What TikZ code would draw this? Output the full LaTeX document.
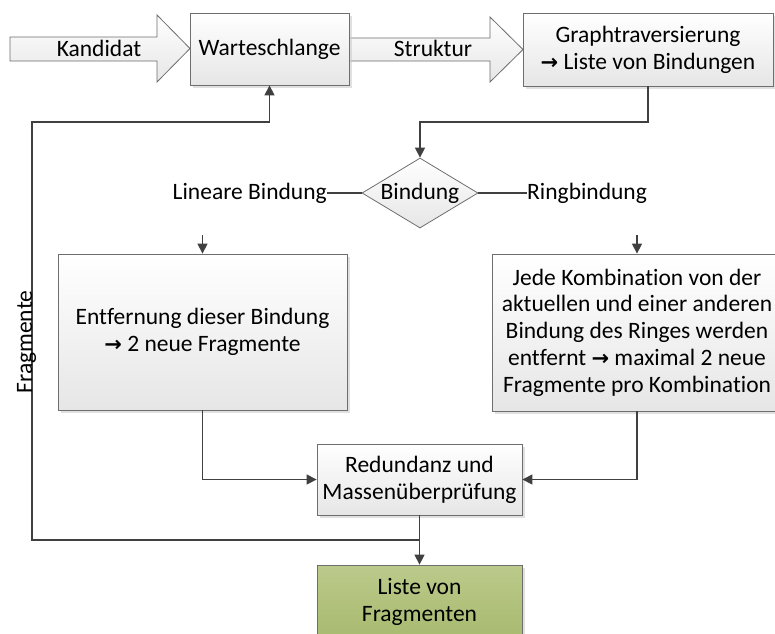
\documentclass[tikz,border=0pt]{standalone}
\usepackage{fontspec}
\setmainfont{Carlito}[Ligatures=NoCommon]
\newfontfamily\arrfont{DejaVu Sans}
\usetikzlibrary{arrows.meta,shapes.geometric,shadows}
\definecolor{boxline}{HTML}{6E6E6E}
\definecolor{connline}{HTML}{404040}
\definecolor{boxbot}{HTML}{E6E6E6}
\definecolor{greentop}{HTML}{BBCA8A}
\definecolor{greenbot}{HTML}{A8BA70}
\newcommand{\arr}{{\arrfont\bfseries\fontsize{21}{27}\selectfont →}}
\begin{document}
\begin{tikzpicture}[x=1pt,y=-1pt,
  every node/.style={font=\fontsize{23.5}{26.8}\selectfont, text=black},
  procbox/.style={draw=boxline, line width=0.8pt, top color=white, bottom color=boxbot,
    drop shadow={shadow xshift=2.5pt, shadow yshift=-2.5pt, fill=black!20, opacity=0.6},
    align=center, inner sep=0pt},
  greenbox/.style={procbox, top color=greentop, bottom color=greenbot},
  decide/.style={diamond, draw=boxline, line width=0.8pt, top color=white, bottom color=boxbot,
    aspect=1.657, inner sep=0pt, minimum width=116pt, minimum height=70pt},
  bigarrow/.style={draw=boxline, line width=0.8pt, top color=white, bottom color=boxbot},
  conn/.style={draw=connline, line width=1.3pt, -{Triangle[length=10pt,width=10pt]}},
  plain/.style={draw=connline, line width=1.3pt}]
\useasboundingbox (0,0) rectangle (775,633);
\fill[white] (0,0) rectangle (775,633);

% big input arrows
\draw[bigarrow] (10,37) -- (157,37) -- (157,15) -- (190,48.5) -- (157,82) -- (157,61) -- (10,61) -- cycle;
\draw[bigarrow] (349,38) -- (490,38) -- (490,17) -- (523,49.5) -- (490,82) -- (490,61) -- (349,61) -- cycle;
\node (kand) at (99,48) {Kandidat};
\node (str) at (433,48) {Struktur};

% boxes
\node[procbox, minimum width=159pt, minimum height=72pt] (wq) at (269.5,49) {Warteschlange};
\node[procbox, minimum width=250pt, minimum height=73pt] (gt) at (648,49.5) {Graphtraversierung\\\arr{} Liste von Bindungen};
\node[decide] (dia) at (420,193) {Bindung};
\node[anchor=east, inner sep=0pt] (lin) at (327,193) {Lineare Bindung};
\node[anchor=west, inner sep=0pt] (ring) at (527,193) {Ringbindung};
\node[procbox, minimum width=289pt, minimum height=156pt] (left) at (202.5,332) {Entfernung dieser Bindung\\\arr{} 2 neue Fragmente};
\node[procbox, minimum width=290pt, minimum height=157pt] (right) at (637,332.5) {Jede Kombination von der\\aktuellen und einer anderen\\Bindung des Ringes werden\\entfernt \arr{} maximal 2 neue\\Fragmente pro Kombination};
\node[procbox, minimum width=205pt, minimum height=71pt] (red) at (419.5,479.5) {Redundanz und\\Massenüberprüfung};
\node[greenbox, minimum width=205pt, minimum height=74pt] (liste) at (419.5,602) {Liste von\\Fragmenten};

% coordinates
\coordinate (k1) at (420,122);
\coordinate (l1) at (202.5,235);
\coordinate (r1) at (637,235);
\coordinate (j) at (419.5,540);
\coordinate (c1) at (32,540);
\coordinate (c2) at (32,122);
\coordinate (c3) at (269.5,122);

% connectors
\draw[conn] (gt.south) |- (k1) -- (dia.north);
\draw[plain] (lin.east) -- (dia.west);
\draw[plain] (dia.east) -- (ring.west);
\draw[conn] (l1) -- (left.north);
\draw[conn] (r1) -- (right.north);
\draw[conn] (left.south) |- (red.west);
\draw[conn] (right.south) |- (red.east);
\draw[conn] (red.south) -- (liste.north);
\draw[conn] (j) -- (c1) -- (c2) -- (c3) -- (wq.south);
\node[rotate=90, anchor=base, inner sep=0pt] (frag) at (32,342) {Fragmente};
\end{tikzpicture}
\end{document}
